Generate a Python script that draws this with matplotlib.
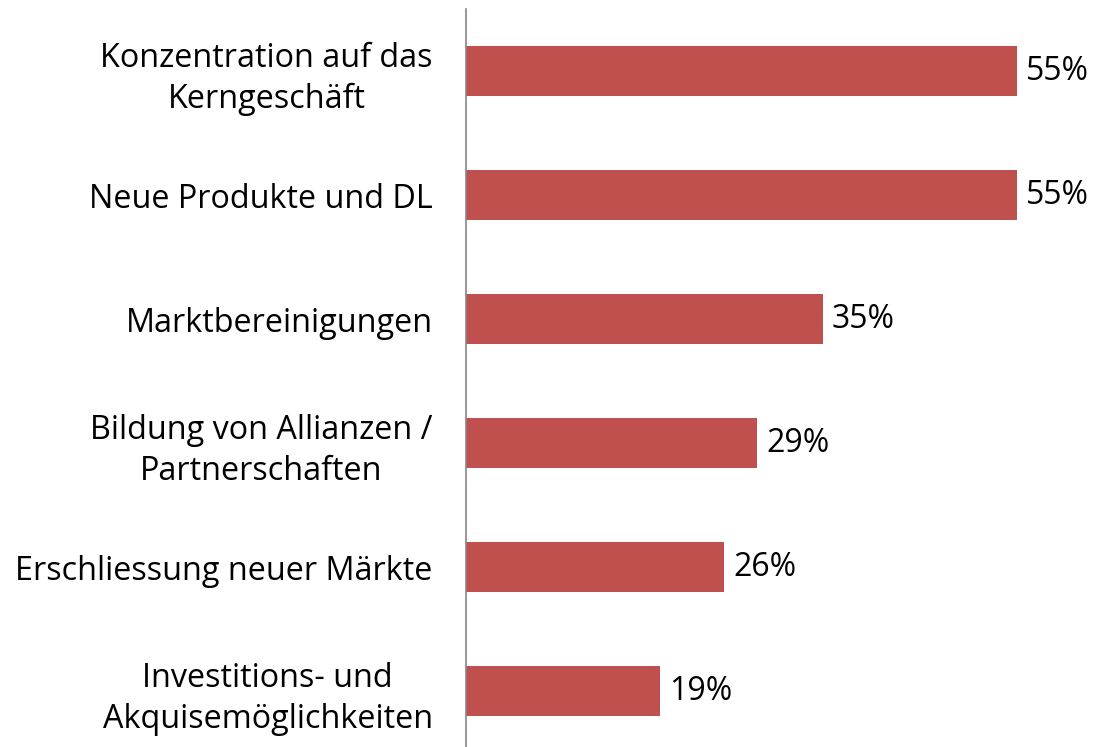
import matplotlib
matplotlib.use("Agg")
import matplotlib.pyplot as plt

categories = [
    "Konzentration auf das\nKerngeschäft",
    "Neue Produkte und DL",
    "Marktbereinigungen",
    "Bildung von Allianzen /\nPartnerschaften",
    "Erschliessung neuer Märkte",
    "Investitions- und\nAkquisemöglichkeiten",
]
values = [55.0, 55.0, 35.6, 29.1, 25.8, 19.4]
value_labels = ["55%", "55%", "35%", "29%", "26%", "19%"]

plt.rcParams["font.family"] = ["Open Sans", "DejaVu Sans"]

fig = plt.figure(figsize=(10.94, 7.47), dpi=100)
ax = fig.add_axes([466 / 1094, 0, 621 / 1094, 738 / 747])

pos = list(range(len(categories)))
ax.barh(pos, values, height=0.4, color="#C0504D")

for p, v, lab in zip(pos, values, value_labels):
    ax.text(v + 0.9, p, lab, va="center", ha="left", fontsize=23)

ax.set_xlim(0, 62)
ax.set_ylim(5.45, -0.5)
ax.set_yticks(pos)
ax.set_yticklabels(categories, fontsize=23.3, multialignment="center",
                   linespacing=1.32)
ax.tick_params(axis="y", length=0, pad=24)
ax.set_xticks([])

for s in ["top", "right", "bottom"]:
    ax.spines[s].set_visible(False)
ax.spines["left"].set_color("#868686")
ax.spines["left"].set_linewidth(1.2)

fig.savefig("out.png", dpi=100)
